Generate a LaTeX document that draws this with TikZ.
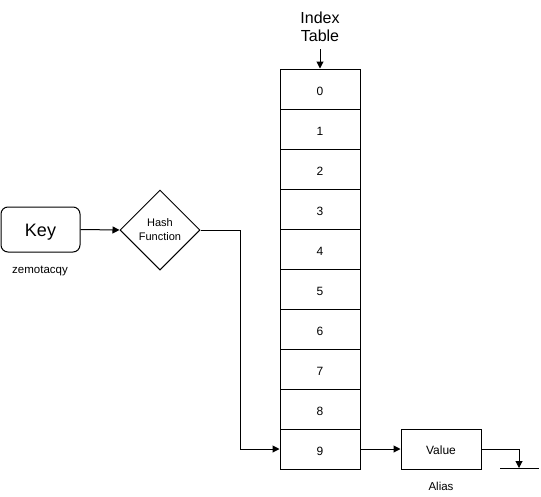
\documentclass[tikz,border=0pt]{standalone}
\usepackage{fontspec}
\setmainfont{Liberation Sans}
\usetikzlibrary{shapes.geometric,arrows.meta}
\begin{document}
\begin{tikzpicture}[x=1pt,y=-1pt,
  box/.style={draw,line width=1pt,minimum width=80pt,minimum height=40pt,inner sep=0pt,text height=11pt,font=\fontsize{12}{14}\selectfont},
  cell/.style={draw,line width=1pt,minimum width=80pt,minimum height=40pt,inner sep=0pt,text height=12pt,text depth=0pt,font=\fontsize{12}{14}\selectfont},
  lbl/.style={inner sep=0pt,font=\fontsize{11.5}{13}\selectfont},
  conn/.style={line width=1pt,-{Triangle[length=7pt,width=7pt]}}]
\useasboundingbox (0,0) rectangle (541,496);
% Key
\node[draw,line width=1pt,rounded corners=7pt,minimum width=79pt,minimum height=45pt,inner sep=0pt,text height=17pt,text depth=4pt,font=\fontsize{18}{20}\selectfont] (key) at (40.5,229.5) {Key};
\node[lbl] (zem) at (40,270.5) {zemotacqy};
% Hash function
\node[draw,line width=1pt,diamond,minimum width=80pt,minimum height=80pt,inner sep=0pt,aspect=1,align=center,font=\fontsize{11}{14}\selectfont] (hash) at (160,230) {\raisebox{-2pt}{Hash}\\\raisebox{-2pt}{Function}};
\draw[conn] (key.east) -- (hash.west);
% Index table
\node[inner sep=0pt,align=center,font=\fontsize{16}{18}\selectfont] (title) at (320,26.5) {Index\\Table};
\foreach \i in {0,...,9}{
  \node[cell] (c\i) at (320,{89+40*\i}) {\i};
}
\coordinate (tin) at (320,49);
\draw[conn] (tin) -- (c0.north);
\coordinate (bend) at (240,230);
\draw[conn] (hash.east) -- (bend) |- (c9.west);
% Value
\node[box] (val) at (441,449) {Value};
\node[lbl] (alias) at (441,486) {Alias};
\draw[conn] (c9.east) -- (val.west);
\coordinate (vr) at (519,449);
\coordinate (gnd) at (519,468);
\draw[conn] (val.east) -- (vr) -- (gnd);
\coordinate (gl) at (500,468);
\coordinate (gr) at (539,468);
\draw[line width=1pt] (gl) -- (gr);
\end{tikzpicture}
\end{document}
